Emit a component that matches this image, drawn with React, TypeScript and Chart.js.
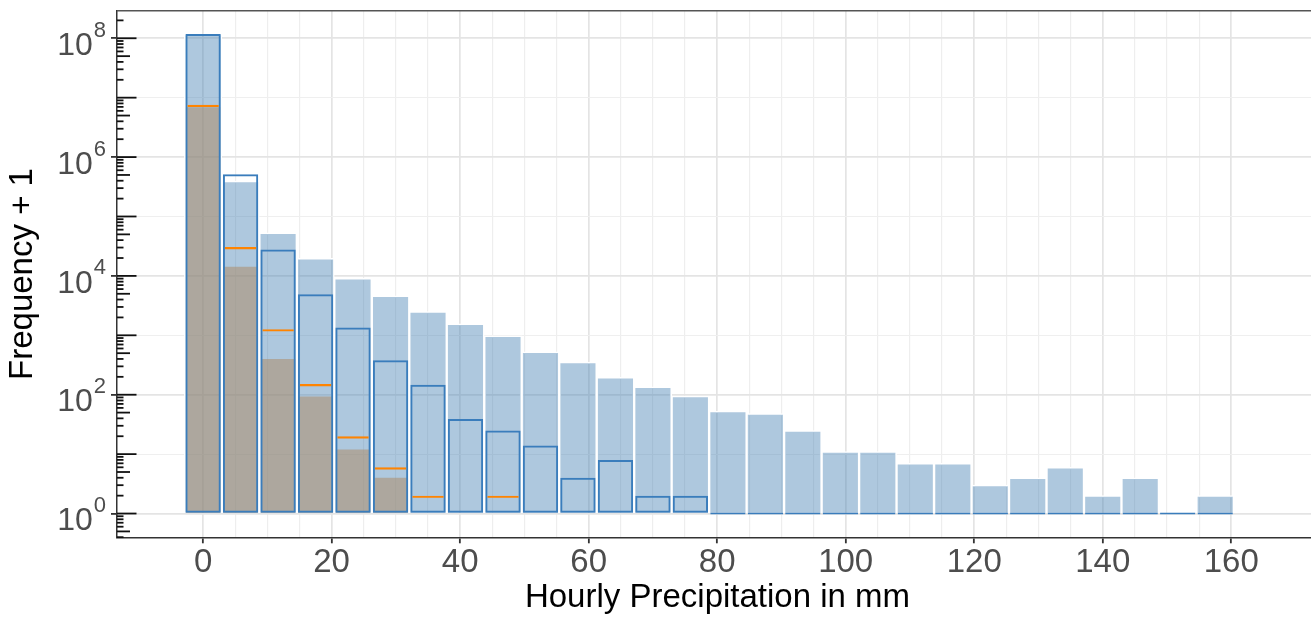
import { useEffect, useRef } from 'react';
import { Chart, registerables } from 'chart.js';

Chart.register(...registerables);

// Histogram bins (bin centres, mm of hourly precipitation)
const binCenters = [
  0, 5.83, 11.67, 17.5, 23.33, 29.17, 35, 40.83, 46.67, 52.5, 58.33, 64.17, 70, 75.83,
  81.67, 87.5, 93.33, 99.17, 105, 110.83, 116.67, 122.5, 128.33, 134.17, 140, 145.83, 151.67, 157.5,
];

// Frequency + 1 per bin for each layer
const filledCounts = [
  1.18e8, 3.96e5, 5.3e4, 1.98e4, 9140, 4600, 2500, 1560, 977, 526, 353, 197, 136, 95,
  53, 48, 25, 11, 11, 7, 7, 3, 4, 6, 2, 4, 1, 2,
];
const outlinedCounts = [
  1.18e8, 5.14e5, 2.77e4, 4920, 1350, 381, 147, 39, 25, 14, 4, 8, 2, 2,
  1, 1, 1, 1, 1, 1, 1, 1, 1, 1, 1, 1, 1, 1,
];
const shadedCounts = [6.9e6, 1.43e4, 401, 93, 12, 4];
const markerCounts = [7.6e6, 3.05e4, 1270, 151, 20, 6, 2, 1, 2];

// Axes
const xMajorTicks = [0, 20, 40, 60, 80, 100, 120, 140, 160];
const xMinorGrid = [5, 10, 15, 25, 30, 35, 45, 50, 55, 65, 70, 75, 85, 90, 95, 105, 110, 115, 125, 130, 135, 145, 150, 155];
const yDecades = [1, 1e1, 1e2, 1e3, 1e4, 1e5, 1e6, 1e7, 1e8];
const yLabelExponents = [0, 2, 4, 6, 8];

const X_MIN = -13.4;
const X_MAX = 173.5;
const Y_MIN = 0.398;
const Y_MAX = 2.91e8;

const FONT = "'Liberation Sans', Arial, Helvetica, sans-serif";

const toPoints = (vals: number[]) => vals.map((y, i) => ({ x: binCenters[i], y }));

const isEvenDecade = (v: number | undefined) => {
  if (v === undefined || v <= 0) return false;
  return Math.round(Math.log10(v)) % 2 === 0;
};

// Panel top border, log-scale tick marks and power-of-ten labels
const panelDecor = {
  id: 'panelDecor',
  afterDraw(chart: any) {
    const { ctx, chartArea } = chart;
    const y = chart.scales.y;
    ctx.save();

    ctx.strokeStyle = '#555555';
    ctx.lineWidth = 1.5;
    ctx.beginPath();
    ctx.moveTo(chartArea.left, chartArea.top);
    ctx.lineTo(chartArea.right, chartArea.top);
    ctx.stroke();

    ctx.strokeStyle = '#111111';
    ctx.lineWidth = 1.8;
    for (let d = -1; d <= 8; d++) {
      for (let m = 1; m <= 9; m++) {
        const v = m * Math.pow(10, d);
        if (v < y.min || v > y.max) continue;
        const py = y.getPixelForValue(v);
        const len = m === 1 ? 19.5 : m === 5 ? 13 : 6.5;
        ctx.beginPath();
        ctx.moveTo(chartArea.left, py);
        ctx.lineTo(chartArea.left + len, py);
        ctx.stroke();
      }
    }

    ctx.fillStyle = '#4d4d4d';
    ctx.textBaseline = 'alphabetic';
    ctx.textAlign = 'left';
    const right = chartArea.left - 11;
    for (const e of yLabelExponents) {
      const py = y.getPixelForValue(Math.pow(10, e));
      ctx.font = `32px ${FONT}`;
      const wBase = ctx.measureText('10').width;
      ctx.font = `22px ${FONT}`;
      const wExp = ctx.measureText(String(e)).width;
      const x0 = right - wExp - 1 - wBase;
      ctx.font = `32px ${FONT}`;
      ctx.fillText('10', x0, py + 16.7);
      ctx.font = `22px ${FONT}`;
      ctx.fillText(String(e), x0 + wBase + 1, py - 1.5);
    }
    ctx.restore();
  },
};

export default function App() {
  const canvasRef = useRef<HTMLCanvasElement>(null);

  useEffect(() => {
    const canvas = canvasRef.current;
    if (!canvas) return;

    const chart = new Chart(canvas, {
      type: 'bar',
      data: {
        datasets: [
          {
            label: 'marker',
            data: toPoints(markerCounts),
            backgroundColor: 'rgba(0,0,0,0)',
            borderColor: '#ff8400',
            borderWidth: { top: 2.2, right: 0, bottom: 0, left: 0 },
            borderSkipped: false,
            barPercentage: 0.84,
            categoryPercentage: 1,
            grouped: false,
            base: 1,
            order: 1,
          } as any,
          {
            label: 'outlined',
            data: toPoints(outlinedCounts),
            backgroundColor: 'rgba(0,0,0,0)',
            borderColor: 'rgb(58,125,188)',
            borderWidth: 2,
            borderSkipped: false,
            minBarLength: 2,
            barPercentage: 0.943,
            categoryPercentage: 1,
            grouped: false,
            base: 1,
            order: 2,
          } as any,
          {
            label: 'shaded',
            data: toPoints(shadedCounts),
            backgroundColor: 'rgba(171,140,105,0.55)',
            borderWidth: 0,
            barPercentage: 0.915,
            categoryPercentage: 1,
            grouped: false,
            base: 1,
            order: 3,
          } as any,
          {
            label: 'filled',
            data: toPoints(filledCounts),
            backgroundColor: 'rgba(70,130,180,0.44)',
            borderColor: '#ffffff',
            borderWidth: 1.5,
            barPercentage: 1,
            categoryPercentage: 1,
            grouped: false,
            base: 1,
            order: 4,
          } as any,
        ],
      },
      options: {
        responsive: false,
        animation: false,
        events: [],
        layout: { padding: { top: 10.7, right: 2, bottom: 0, left: 0 } },
        plugins: { legend: { display: false }, tooltip: { enabled: false } },
        scales: {
          x: {
            type: 'linear',
            position: 'bottom',
            offset: false,
            min: X_MIN,
            max: X_MAX,
            afterBuildTicks: (s: any) => {
              s.ticks = xMajorTicks.map((value) => ({ value }));
            },
            afterFit: (s: any) => {
              s.height = 80.7;
            },
            ticks: {
              autoSkip: false,
              maxRotation: 0,
              padding: 0,
              color: '#4d4d4d',
              font: { family: FONT, size: 33 },
              callback: (v: any) => String(v),
            },
            grid: {
              offset: false,
              color: '#e4e4e4',
              lineWidth: 1.7,
              drawTicks: true,
              tickLength: 6,
              tickColor: '#333333',
              tickWidth: 1.8,
            },
            border: { display: true, color: '#333333', width: 1.5 },
            title: {
              display: true,
              text: 'Hourly Precipitation in mm',
              color: '#000000',
              font: { family: FONT, size: 33 },
              padding: { top: 0, bottom: 0 },
            },
          },
          x2: {
            type: 'linear',
            position: 'bottom',
            offset: false,
            min: X_MIN,
            max: X_MAX,
            afterBuildTicks: (s: any) => {
              s.ticks = xMinorGrid.map((value) => ({ value }));
            },
            afterFit: (s: any) => {
              s.height = 0;
            },
            ticks: { display: false },
            grid: { offset: false, color: '#eeeeee', lineWidth: 1.2, drawTicks: false },
            border: { display: false },
            title: { display: false },
          },
          y: {
            type: 'logarithmic',
            min: Y_MIN,
            max: Y_MAX,
            afterBuildTicks: (s: any) => {
              s.ticks = yDecades.map((value) => ({ value }));
            },
            afterFit: (s: any) => {
              s.width = 117;
            },
            ticks: { display: false },
            grid: {
              color: (c: any) => (isEvenDecade(c.tick?.value) ? '#e4e4e4' : '#efefef'),
              lineWidth: (c: any) => (isEvenDecade(c.tick?.value) ? 1.8 : 1.1),
              drawTicks: true,
              tickLength: 6,
              tickColor: (c: any) => (isEvenDecade(c.tick?.value) ? '#333333' : 'rgba(0,0,0,0)'),
              tickWidth: 1.8,
            },
            border: { display: true, color: '#333333', width: 1.5 },
            title: {
              display: true,
              text: 'Frequency + 1',
              color: '#000000',
              font: { family: FONT, size: 33 },
              padding: { top: 3, bottom: 0 },
            },
          },
        },
      } as any,
      plugins: [panelDecor],
    });

    return () => chart.destroy();
  }, []);

  return (
    <div
      style={{
        position: 'fixed',
        left: 0,
        top: 0,
        width: 1311,
        height: 618,
        overflow: 'hidden',
        background: '#ffffff',
      }}
    >
      <canvas ref={canvasRef} width={1320} height={618} style={{ display: 'block', width: 1320, height: 618 }} />
    </div>
  );
}
